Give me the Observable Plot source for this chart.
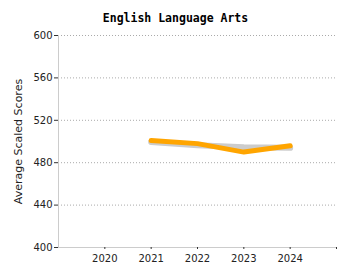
<!DOCTYPE html>
<html><head><meta charset="utf-8">
<script src="https://cdn.jsdelivr.net/npm/d3@7"></script>
<script src="https://cdn.jsdelivr.net/npm/@observablehq/plot@0.6"></script>
<style>body{margin:0;background:#fff}</style>
</head><body><div id="chart"></div>
<script>
const years = [2021, 2022, 2023, 2024];
const schoolScores = [501, 498, 490, 496];
const stateScores = [499.5, 496.5, 494.5, 494];
const xTicks = [2020, 2021, 2022, 2023, 2024, 2025];
const xTickLabels = ["2020", "2021", "2022", "2023", "2024", ""];
const yTicks = [400, 440, 480, 520, 560, 600];
const title = "English Language Arts";
const yLabel = "Average Scaled Scores";

const state = years.map((y, i) => ({year: y, score: stateScores[i]}));
const school = years.map((y, i) => ({year: y, score: schoolScores[i]}));

const chart = Plot.plot({
  width: 350, height: 280,
  marginLeft: 58, marginRight: 14, marginTop: 35, marginBottom: 33,
  style: {fontFamily: "DejaVu Sans", fontSize: "10px", color: "#222", background: "#fff"},
  x: {domain: [2019, 2025]},
  y: {domain: [400, 600]},
  marks: [
    Plot.gridY(yTicks.slice(1), {stroke: "#aaa", strokeOpacity: 1, strokeDasharray: "1,2"}),
    Plot.ruleX([2019], {stroke: "#ccc"}),
    Plot.ruleY([400], {stroke: "#ccc"}),
    Plot.axisY({ticks: yTicks, tickSize: 4, tickPadding: 2, label: null, stroke: "#333"}),
    Plot.axisX({ticks: xTicks, tickFormat: d => xTickLabels[xTicks.indexOf(d)], tickSize: 2, tickPadding: 5, label: null, stroke: "#333"}),
    Plot.text([yLabel], {frameAnchor: "left", textAnchor: "middle", rotate: -90, dx: -40, fontSize: 11, fill: "#222", fontFamily: "DejaVu Sans", letterSpacing: "0.5px"}),
    Plot.text([title], {frameAnchor: "top", dy: -22, dx: -22, fontSize: 11.5, fontWeight: "bold", fontFamily: "DejaVu Sans Mono", fill: "#000"}),
    Plot.line(state, {x: "year", y: "score", stroke: "#cccccc", strokeWidth: 6}),
    Plot.line(school, {x: "year", y: "score", stroke: "#ffa500", strokeWidth: 5})
  ]
});
document.getElementById("chart").append(chart);
</script></body></html>
